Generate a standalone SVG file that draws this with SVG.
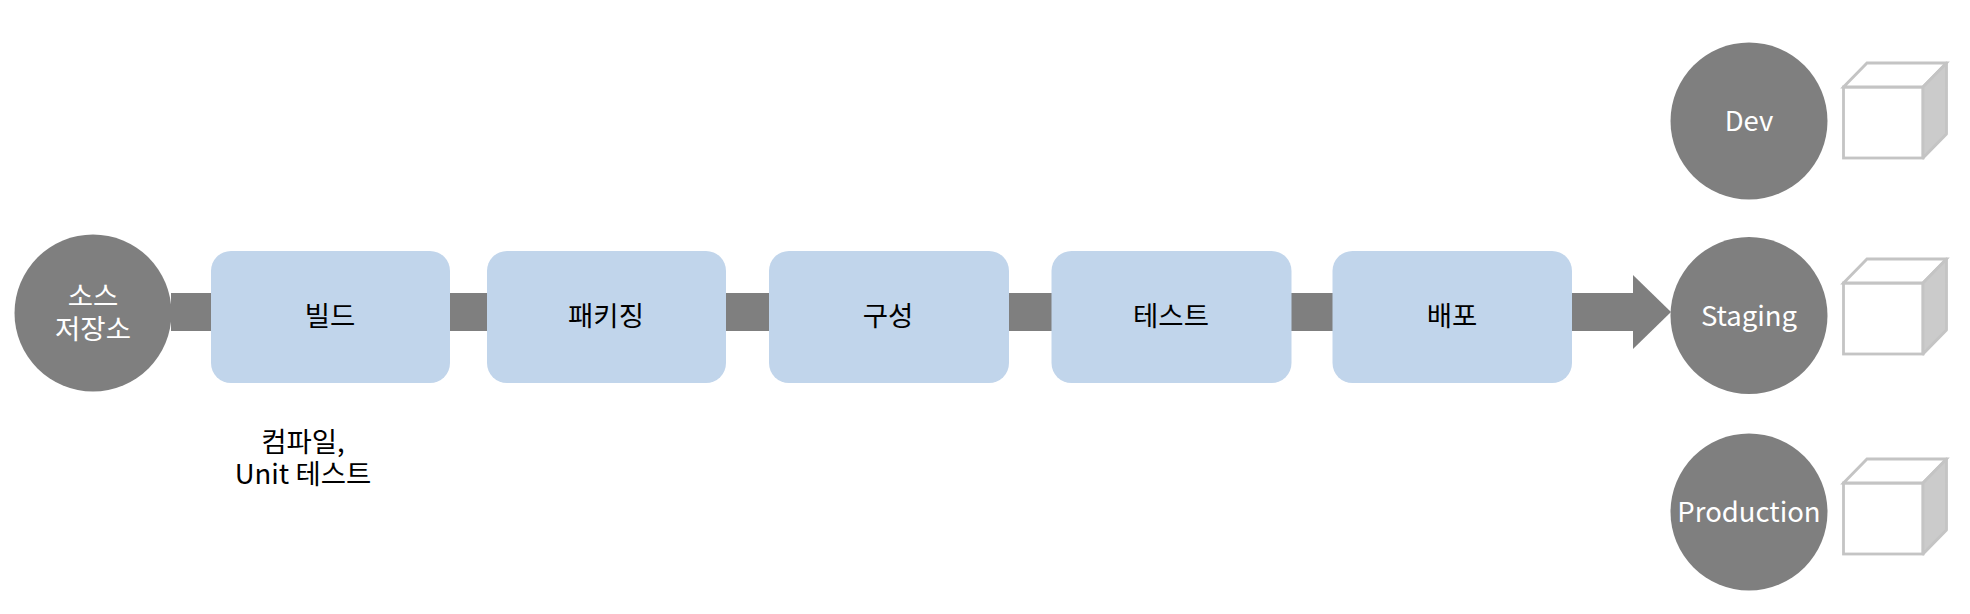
<svg xmlns="http://www.w3.org/2000/svg" width="1970" height="614" viewBox="0 0 1970 614">
<style>
text{font-family:"Noto Sans CJK KR","Noto Sans",sans-serif;font-size:27.5px;font-weight:400;text-anchor:middle}
.c{fill:#7f7f7f}
.w{fill:#fff}
.k{fill:#000}
.b{fill:#c1d5eb}
.f{fill:#fff;stroke:#c4c4c4;stroke-width:2.8}
.s{fill:#cbcbcb;stroke:#c4c4c4;stroke-width:2.8;stroke-linejoin:round}
</style>
<rect width="1970" height="614" fill="#fff"/>
<g id="connectors">
<rect class="c" x="171" y="293" width="1462" height="38"/>
<polygon class="c" points="1633,275 1671,312 1633,349"/>
</g>
<g id="source"><circle class="c" cx="93" cy="313" r="78.5"/><text class="w" x="93" y="306">소스</text><text class="w" x="93" y="339">저장소</text></g>
<g id="build"><rect class="b" x="211" y="251" width="239" height="132" rx="20"/><text class="k" x="330" y="326">빌드</text></g>
<g id="package"><rect class="b" x="487" y="251" width="239" height="132" rx="20"/><text class="k" x="606" y="326">패키징</text></g>
<g id="config"><rect class="b" x="769" y="251" width="240" height="132" rx="20"/><text class="k" x="888" y="326">구성</text></g>
<g id="test"><rect class="b" x="1051.5" y="251" width="240" height="132" rx="20"/><text class="k" x="1171" y="326">테스트</text></g>
<g id="deploy"><rect class="b" x="1332.5" y="251" width="239.5" height="132" rx="20"/><text class="k" x="1452" y="326">배포</text></g>
<g id="note"><text class="k" x="303" y="452">컴파일,</text><text class="k" x="303" y="484">Unit 테스트</text></g>
<g id="dev"><circle class="c" cx="1749" cy="121" r="78.5"/><text class="w" x="1749" y="131">Dev</text></g>
<g id="staging"><circle class="c" cx="1749" cy="315.5" r="78.5"/><text class="w" x="1749" y="326">Staging</text></g>
<g id="production"><circle class="c" cx="1749" cy="512" r="78.5"/><text class="w" x="1749" y="522">Production</text></g>
<g id="cube-dev"><rect class="f" x="1843.5" y="87" width="79.5" height="71"/><polygon class="f" points="1843.5,87 1867,63 1946.5,63 1923,87"/><polygon class="s" points="1923,87 1946.5,63 1946.5,134 1923,158"/></g>
<g id="cube-staging"><rect class="f" x="1843.5" y="283" width="79.5" height="71"/><polygon class="f" points="1843.5,283 1867,259 1946.5,259 1923,283"/><polygon class="s" points="1923,283 1946.5,259 1946.5,330 1923,354"/></g>
<g id="cube-production"><rect class="f" x="1843.5" y="483" width="79.5" height="71"/><polygon class="f" points="1843.5,483 1867,459 1946.5,459 1923,483"/><polygon class="s" points="1923,483 1946.5,459 1946.5,530 1923,554"/></g>
</svg>
